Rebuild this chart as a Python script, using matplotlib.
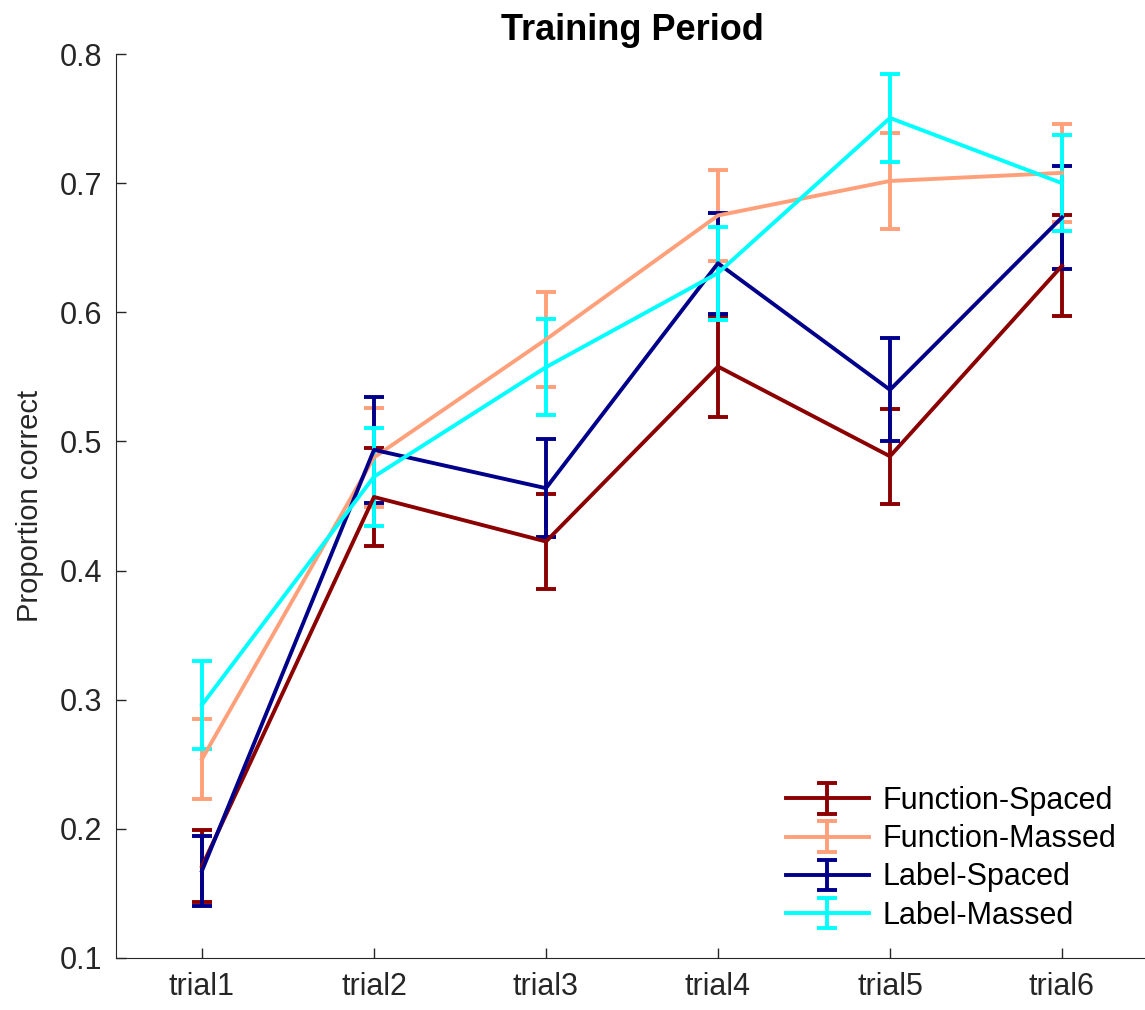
import matplotlib
matplotlib.use('Agg')
import matplotlib.pyplot as plt
import numpy as np

plt.rcParams['font.family'] = ['Liberation Sans', 'DejaVu Sans']

trials = ['trial1', 'trial2', 'trial3', 'trial4', 'trial5', 'trial6']
series = ['Function-Spaced', 'Function-Massed', 'Label-Spaced', 'Label-Massed']
colors = ['#8B0000', '#FFA07A', '#00008B', '#00FFFF']

func_spaced = [0.171, 0.457, 0.4225, 0.558, 0.4885, 0.636]
func_spaced_err = [0.028, 0.038, 0.037, 0.039, 0.037, 0.039]
func_massed = [0.254, 0.4876, 0.579, 0.675, 0.7017, 0.708]
func_massed_err = [0.031, 0.038, 0.037, 0.035, 0.037, 0.038]
label_spaced = [0.1675, 0.4935, 0.4638, 0.638, 0.540, 0.6735]
label_spaced_err = [0.027, 0.041, 0.038, 0.039, 0.040, 0.040]
label_massed = [0.296, 0.4727, 0.5575, 0.6304, 0.7505, 0.700]
label_massed_err = [0.034, 0.038, 0.037, 0.036, 0.034, 0.037]

means = [func_spaced, func_massed, label_spaced, label_massed]
errs = [func_spaced_err, func_massed_err, label_spaced_err, label_massed_err]

fig = plt.figure(figsize=(11.45, 10.1), dpi=100)
ax = fig.add_axes([0.1013, 0.0515, 0.9013, 0.895])

x = np.arange(1, len(trials) + 1)
for m, e, c, name in zip(means, errs, colors, series):
  ax.errorbar(x, m, yerr=e, color=c, lw=2.8, elinewidth=2.8, capsize=7,
              capthick=2.8, label=name)

ax.set_xlim(0.5, 6.5)
ax.set_ylim(0.1, 0.8)
ax.set_xticks(x)
ax.set_xticklabels(trials)
ax.set_yticks(np.arange(0.1, 0.81, 0.1))
ax.set_yticklabels(['%.1f' % v for v in np.arange(0.1, 0.81, 0.1)])
ax.tick_params(direction='in', labelsize=22, length=7, width=1, colors='#262626')
ax.tick_params(axis='x', pad=10)
ax.tick_params(axis='y', pad=10)
ax.spines['top'].set_visible(False)
ax.spines['right'].set_visible(False)
ax.spines['left'].set_color('#262626')
ax.spines['bottom'].set_color('#262626')
ax.set_ylabel('Proportion correct', fontsize=21, color='#262626', labelpad=11)
ax.set_title('Training Period', fontsize=26, fontweight='bold', pad=10)

ax.legend(loc='upper left', bbox_to_anchor=(786 / 1145, 1 - 786 / 1010),
          bbox_transform=fig.transFigure, frameon=False, fontsize=22,
          handlelength=2.7, handletextpad=0.45, labelspacing=0.27,
          borderpad=0, borderaxespad=0)

fig.savefig('out.png')
